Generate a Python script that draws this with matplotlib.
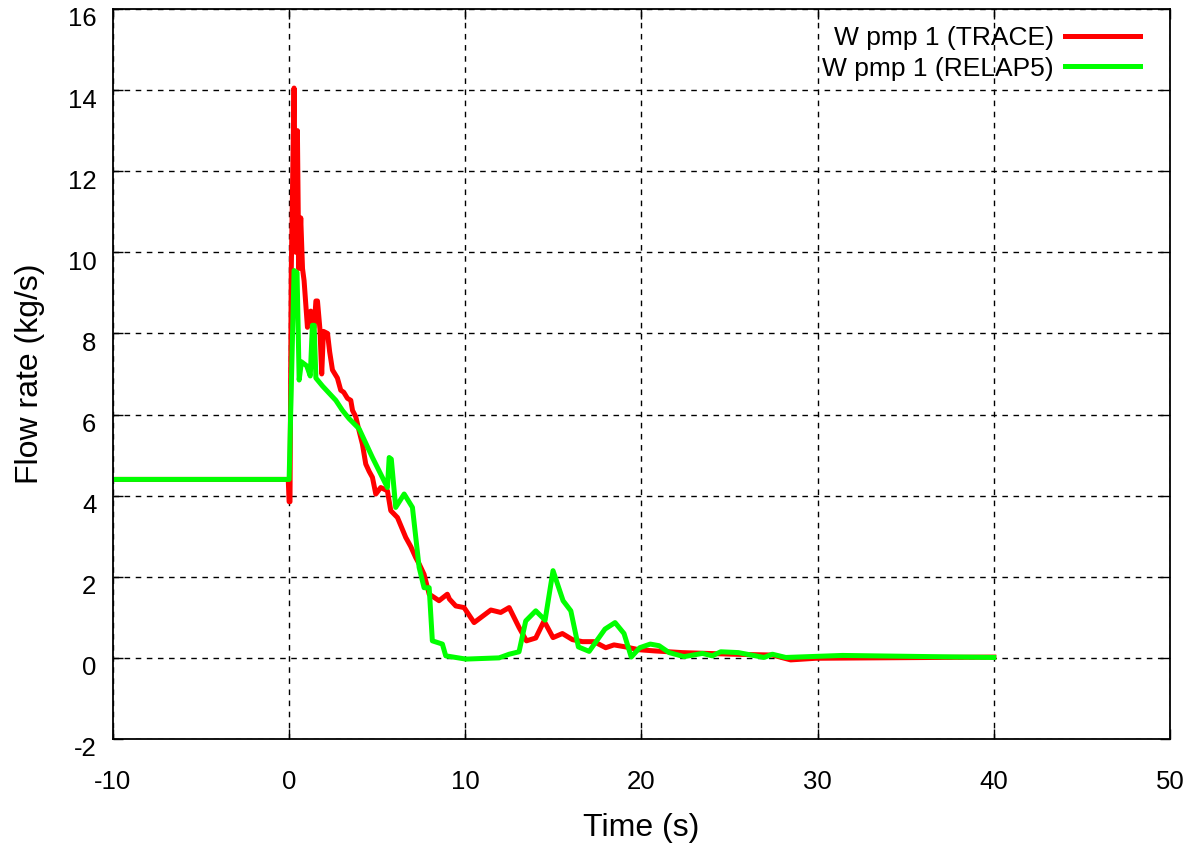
import numpy as np
import matplotlib
matplotlib.use("Agg")
import matplotlib.pyplot as plt
from matplotlib.transforms import ScaledTranslation

plt.rcParams['font.family'] = ['Liberation Sans', 'DejaVu Sans']
plt.rcParams['axes.unicode_minus'] = False

# W pmp 1 (TRACE)
t_trace = [-10, -0.05, 0.0, 0.05, 0.12, 0.18, 0.28, 0.38, 0.47, 0.55, 0.66, 0.76, 0.85,
           1.04, 1.13, 1.23, 1.33, 1.42, 1.52, 1.61, 1.75, 1.85, 1.95, 2.18, 2.3, 2.46,
           2.6, 2.74, 2.93, 3.1, 3.31, 3.5, 3.6, 3.78, 3.97, 4.16, 4.35, 4.54, 4.73,
           4.92, 5.2, 5.58, 5.77, 6.15, 6.4, 6.62, 6.9, 7.19, 7.4, 7.66, 7.95, 8.2,
           8.51, 8.98, 9.1, 9.46, 9.93, 10.5, 11.45, 12.01, 12.49, 13.05, 13.47, 14.0,
           14.47, 14.98, 15.51, 16.08, 16.65, 17.31, 17.97, 18.44, 19.1, 19.86, 20.81,
           22.3, 25.16, 27.43, 28.47, 29.89, 40.0]
w_trace = [4.4, 4.4, 3.85, 3.85, 9.5, 11.2, 14.05, 10.0, 13.0, 9.6, 10.85, 9.6, 9.3,
           8.15, 8.5, 8.55, 8.2, 8.15, 8.8, 8.8, 8.1, 7.0, 8.05, 8.0, 7.55, 7.1,
           7.0, 6.9, 6.6, 6.55, 6.4, 6.35, 6.1, 5.95, 5.6, 5.27, 4.78, 4.6, 4.45,
           4.04, 4.2, 4.12, 3.63, 3.46, 3.2, 2.97, 2.75, 2.47, 2.3, 2.06, 1.57, 1.5,
           1.41, 1.57, 1.45, 1.28, 1.24, 0.87, 1.18, 1.12, 1.24, 0.75, 0.42, 0.49,
           0.91, 0.5, 0.6, 0.45, 0.4, 0.4, 0.25, 0.32, 0.27, 0.2, 0.17,
           0.13, 0.09, 0.07, -0.05, -0.01, 0.02]

# W pmp 1 (RELAP5)
t_relap = [-10, 0.0, 0.28, 0.45, 0.57, 0.7, 1.0, 1.2, 1.32, 1.42, 1.52, 1.9, 2.65,
           3.03, 3.4, 3.97, 4.73, 5.58, 5.68, 5.8, 6.05, 6.53, 7.0, 7.38, 7.66, 7.95,
           8.13, 8.7, 8.89, 10.03, 11.92, 12.49, 13.05, 13.43, 14.0, 14.53, 14.98, 15.55,
           15.99, 16.42, 17.03, 17.93, 18.5, 19.01, 19.42, 19.9, 20.5, 21.0, 21.57, 22.42,
           23.46, 24.02, 24.5, 25.5, 26.96, 27.43, 28.19, 31.4, 40.0]
w_relap = [4.4, 4.4, 9.55, 9.5, 6.85, 7.3, 7.2, 6.95, 8.2, 8.2, 6.9, 6.7, 6.35,
           6.1, 5.9, 5.65, 4.94, 4.2, 4.94, 4.9, 3.71, 4.04, 3.71, 2.23, 1.73, 1.73,
           0.42, 0.34, 0.05, -0.03, 0.0, 0.09, 0.15, 0.91, 1.16, 0.93, 2.15, 1.41,
           1.16, 0.27, 0.16, 0.71, 0.87, 0.6, 0.02, 0.25, 0.34, 0.3, 0.13, 0.03,
           0.11, 0.05, 0.15, 0.13, 0.01, 0.09, 0.01, 0.06, 0.01]

xticks = [-10, 0, 10, 20, 30, 40, 50]
yticks = [-2, 0, 2, 4, 6, 8, 10, 12, 14, 16]

fig = plt.figure(figsize=(11.99, 8.46), dpi=100)
ax = fig.add_axes([0.0942, 0.1265, 0.8816, 0.8629])

ax.plot(t_trace, w_trace, color='#ff0000', lw=3.6, label='W pmp 1 (TRACE)')
ax.plot(t_relap, w_relap, color='#00ff00', lw=3.6, label='W pmp 1 (RELAP5)')

ax.set_xlim(-10, 50)
ax.set_ylim(-2, 16)
ax.set_xticks(xticks)
ax.set_yticks(yticks)
ax.grid(True, color='black', linestyle=(0, (4, 4)), linewidth=1.0)
ax.tick_params(direction='in', length=7, width=1, top=True, right=True, labelsize=18.5)
ax.tick_params(axis='x', pad=22)
ax.tick_params(axis='y', pad=12)
for s in ax.spines.values():
    s.set_linewidth(1.3)

# gnuplot puts the y labels a little below their ticks
shift = ScaledTranslation(0, -0.08, fig.dpi_scale_trans)
for lab in ax.get_yticklabels():
    lab.set_transform(lab.get_transform() + shift)

ax.set_xlabel('Time (s)', fontsize=23, labelpad=14)
ax.set_ylabel('Flow rate (kg/s)', fontsize=23, labelpad=16)

leg = ax.legend(loc='upper right', bbox_to_anchor=(0.9815, 0.991), markerfirst=False,
                frameon=False, fontsize=19, handlelength=2.85, handletextpad=0.4,
                labelspacing=0.25, borderaxespad=0)

fig.savefig('out.png', dpi=100)
